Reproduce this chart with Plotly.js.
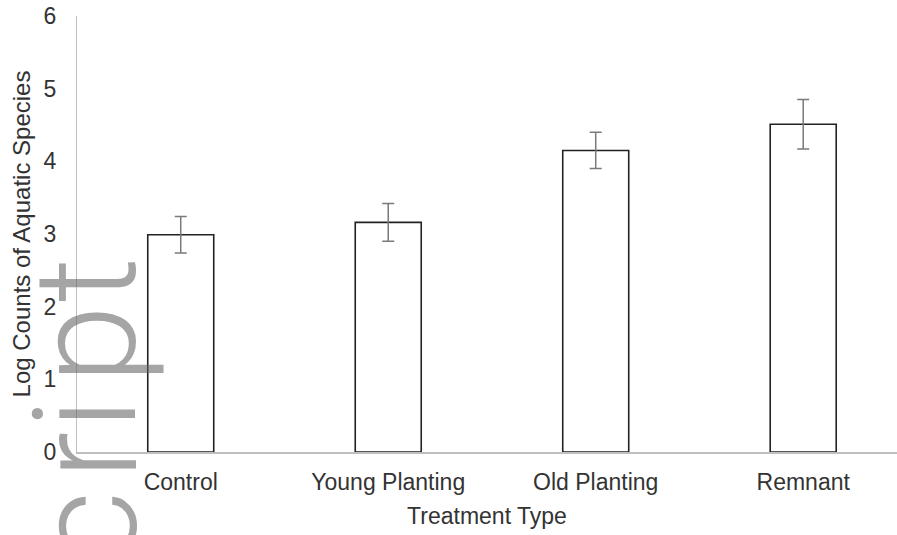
<!DOCTYPE html>
<html>
<head>
<meta charset="utf-8">
<script src="https://cdn.plot.ly/plotly-3.0.1.min.js"></script>
<style>html,body{margin:0;padding:0;background:#fff;}#chart{width:897px;height:535px;}</style>
</head>
<body>
<div id="chart"></div>
<script>
// Data
var categories = ["Control", "Young Planting", "Old Planting", "Remnant"];
var logCounts = [2.99, 3.16, 4.15, 4.51];
var errors = [0.25, 0.26, 0.25, 0.34];
var yTicks = [0, 1, 2, 3, 4, 5, 6];
var watermarkLetters = ["c", "r", "i", "p", "t"];
var watermarkY = [-0.175, -0.008, 0.088, 0.246, 0.395];

var FONT = "Liberation Sans, Arial, sans-serif";

var trace = {
  type: "bar",
  x: categories,
  y: logCounts,
  width: 0.318,
  marker: { color: "#ffffff", line: { color: "#222222", width: 1.6 } },
  error_y: { type: "data", array: errors, visible: true, color: "#7a7a7a", thickness: 1.5, width: 6 },
  hoverinfo: "x+y"
};

var annotations = watermarkLetters.map(function (ch, i) {
  return {
    text: ch, xref: "paper", yref: "paper", x: 0.0122, y: watermarkY[i],
    xanchor: "center", yanchor: "middle", textangle: -90, showarrow: false,
    font: { family: "Roboto, " + FONT, size: 142, color: "rgba(100,100,100,0.58)", weight: 300 }
  };
});

var layout = {
  width: 897, height: 535,
  margin: { l: 77, r: 0, t: 16, b: 82.5, pad: 0 },
  paper_bgcolor: "#ffffff", plot_bgcolor: "#ffffff",
  showlegend: false,
  font: { family: FONT, color: "#333333", size: 23 },
  xaxis: {
    type: "category",
    range: [-0.5, 3.452],
    showgrid: false, zeroline: false,
    showline: true, linecolor: "#bfbfbf", linewidth: 1.5,
    ticks: "", ticklabelstandoff: 9,
    tickfont: { family: FONT, size: 23, color: "#333333" },
    title: { text: "Treatment Type", font: { family: FONT, size: 23, color: "#333333" }, standoff: 14 }
  },
  yaxis: {
    range: [0, 6],
    tickvals: yTicks,
    showgrid: false, zeroline: false,
    showline: true, linecolor: "#bfbfbf", linewidth: 1,
    ticks: "", ticklabelstandoff: 15,
    tickfont: { family: FONT, size: 23, color: "#333333" },
    title: { text: "Log Counts of Aquatic Species", font: { family: FONT, size: 24, color: "#333333" }, standoff: 6 }
  },
  annotations: annotations
};

Plotly.newPlot("chart", [trace], layout, { displayModeBar: false, staticPlot: true });
</script>
</body>
</html>
